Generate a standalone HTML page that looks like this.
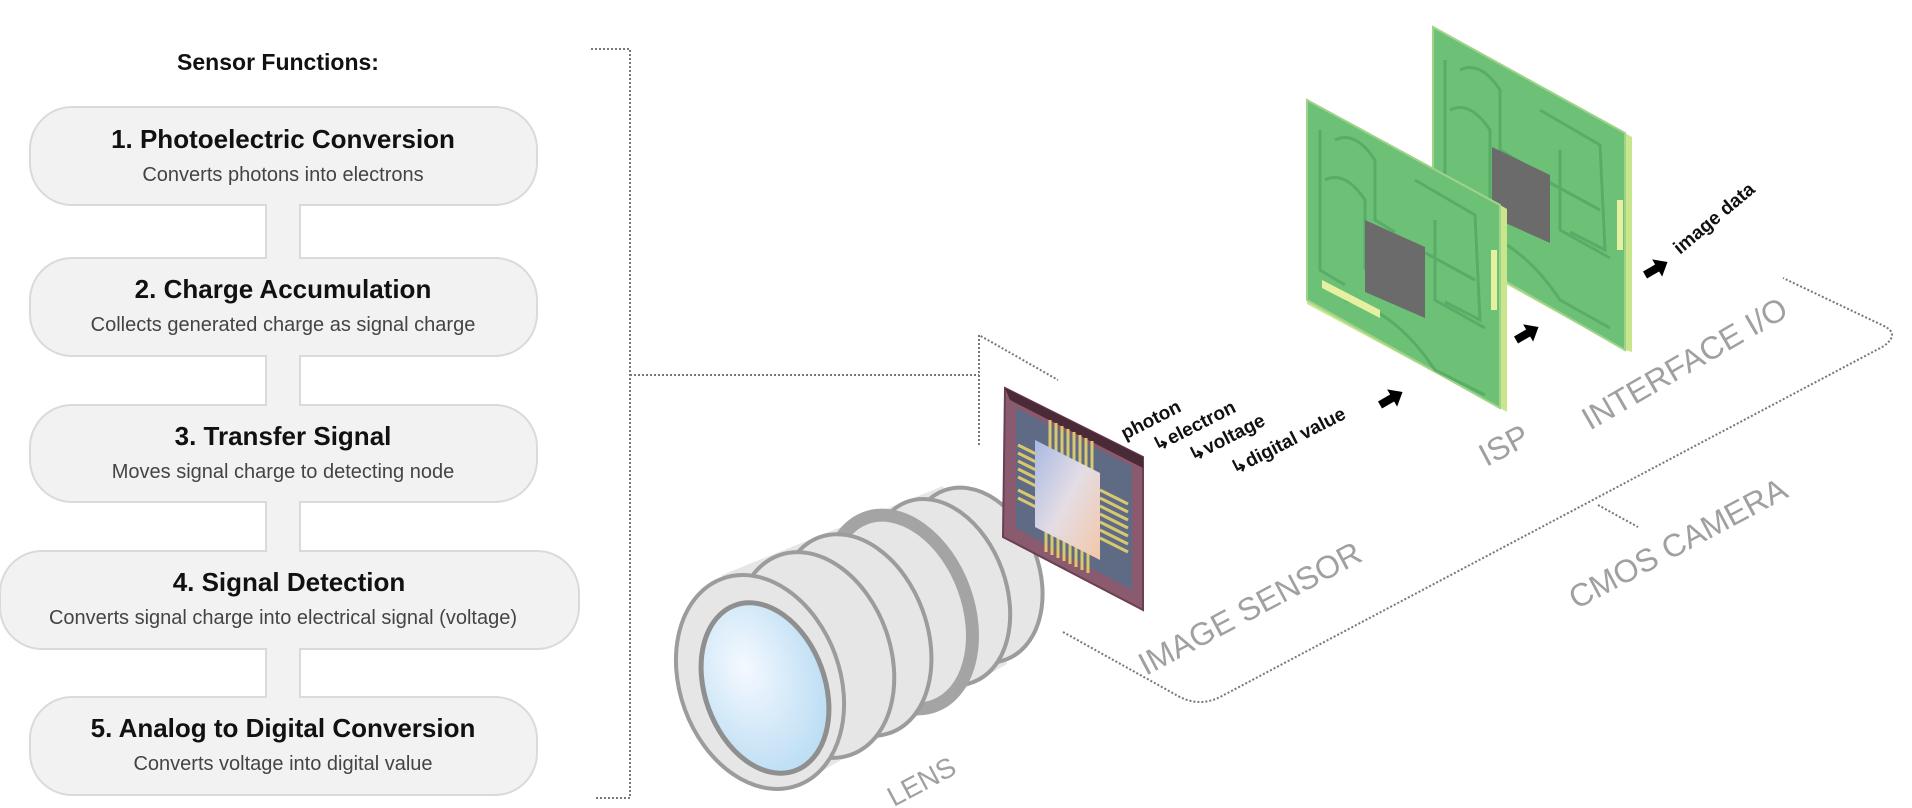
<!DOCTYPE html>
<html><head><meta charset="utf-8"><style>
html,body{margin:0;padding:0;background:#fff;}
svg{display:block}
text{font-family:"Liberation Sans",sans-serif}
</style></head><body>
<svg width="1912" height="808" viewBox="0 0 1912 808" xmlns="http://www.w3.org/2000/svg">
<defs>
<linearGradient id="chipg" x1="0" y1="0" x2="1" y2="1"><stop offset="0" stop-color="#a9b9e3"/><stop offset="0.5" stop-color="#e4dde4"/><stop offset="1" stop-color="#f3c6a8"/></linearGradient>
<radialGradient id="glass" cx="0.4" cy="0.35" r="0.7"><stop offset="0" stop-color="#f4f9ff"/><stop offset="1" stop-color="#b9dcf3"/></radialGradient>
</defs>

<!-- left panel -->
<text x="278" y="70" font-size="23" font-weight="bold" text-anchor="middle" fill="#111">Sensor Functions:</text>
<g fill="#f2f2f2" stroke="#dadada" stroke-width="2">
<rect x="266" y="200" width="34" height="64"/>
<rect x="266" y="350" width="34" height="60"/>
<rect x="266" y="497" width="34" height="60"/>
<rect x="266" y="644" width="34" height="58"/>
<rect x="30" y="107" width="507" height="98" rx="42"/>
<rect x="30" y="258" width="507" height="98" rx="42"/>
<rect x="30" y="405" width="507" height="97" rx="42"/>
<rect x="0" y="551" width="579" height="98" rx="42"/>
<rect x="30" y="697" width="507" height="98" rx="42"/>
</g>
<g fill="#f2f2f2"><rect x="267" y="198" width="32" height="12"/><rect x="267" y="252" width="32" height="12"/><rect x="267" y="348" width="32" height="12"/><rect x="267" y="398" width="32" height="12"/><rect x="267" y="495" width="32" height="12"/><rect x="267" y="545" width="32" height="12"/><rect x="267" y="642" width="32" height="12"/><rect x="267" y="691" width="32" height="12"/></g>
<g text-anchor="middle" fill="#111">
<text x="283" y="148" font-size="26" font-weight="bold">1. Photoelectric Conversion</text>
<text x="283" y="181" font-size="20" fill="#444">Converts photons into electrons</text>
<text x="283" y="298" font-size="26" font-weight="bold">2. Charge Accumulation</text>
<text x="283" y="331" font-size="20" fill="#444">Collects generated charge as signal charge</text>
<text x="283" y="445" font-size="26" font-weight="bold">3. Transfer Signal</text>
<text x="283" y="478" font-size="20" fill="#444">Moves signal charge to detecting node</text>
<text x="289" y="591" font-size="26" font-weight="bold">4. Signal Detection</text>
<text x="283" y="624" font-size="20" fill="#444">Converts signal charge into electrical signal (voltage)</text>
<text x="283" y="737" font-size="26" font-weight="bold">5. Analog to Digital Conversion</text>
<text x="283" y="770" font-size="20" fill="#444">Converts voltage into digital value</text>
</g>

<!-- bracket -->
<g fill="none" stroke="#777" stroke-width="2" stroke-dasharray="2 2">
<path d="M591 49 H630 V798 H595"/>
<path d="M630 375 H979"/>
<path d="M979 445 V335 L1058 380"/>
<path d="M1063 632 L1178 696 Q1200 708 1222 696 L1884 346 Q1900 334 1884 326 L1783 278"/>
<path d="M1598 505 L1638 527"/>
</g>

<!-- lens -->
<g stroke="#9c9c9c" stroke-width="4" fill="#e6e6e6">
<polygon points="722,575 943,486 1007,664 798,785" stroke="none"/>
<ellipse cx="975" cy="575" rx="64" ry="90" transform="rotate(-20 975 575)"/>
<ellipse cx="940" cy="592" rx="66" ry="96" transform="rotate(-20 940 592)"/>
<ellipse cx="900" cy="612" rx="68" ry="100" transform="rotate(-20 900 612)" stroke-width="13" stroke="#a4a4a4"/>
<ellipse cx="855" cy="635" rx="72" ry="104" transform="rotate(-20 855 635)"/>
<ellipse cx="815" cy="655" rx="75" ry="106" transform="rotate(-20 815 655)"/>
<ellipse cx="760" cy="682" rx="80" ry="110" transform="rotate(-20 760 682)"/>
<ellipse cx="765" cy="688" rx="60" ry="88" transform="rotate(-20 765 688)" fill="url(#glass)" stroke="#8f8f8f" stroke-width="5"/>
</g>

<!-- image sensor chip -->
<polygon points="1005,388 1143,457 1143,610 1003,537" fill="#8a5a6e" stroke="#6a3f52" stroke-width="2"/>
<polygon points="1005,388 1143,457 1143,468 1010,400" fill="#4a2a36"/>
<polygon points="1016,408 1132,466 1132,590 1016,528" fill="#5f6a85"/>
<g stroke="#d8c86e" stroke-width="3">
<path d="M1050 420 v30 M1056 423 v30 M1062 426 v30 M1068 429 v30 M1074 432 v30 M1080 435 v30 M1086 438 v30 M1092 441 v30"/>
<path d="M1046 520 v32 M1052 523 v32 M1058 526 v32 M1064 529 v32 M1070 532 v32 M1076 535 v32 M1082 538 v32 M1088 541 v32"/>
<path d="M1018 445 l22 11 M1018 453 l22 11 M1018 461 l22 11 M1018 469 l22 11 M1018 477 l22 11 M1018 490 l22 11 M1018 498 l22 11"/>
<path d="M1100 490 l28 14 M1100 498 l28 14 M1100 506 l28 14 M1100 514 l28 14 M1100 522 l28 14 M1100 530 l28 14 M1100 538 l28 14"/>
</g>
<polygon points="1035,440 1100,473 1100,560 1035,527" fill="url(#chipg)"/>

<!-- PCBs -->
<g>
<polygon points="1433,27 1625,133 1632,137 1632,352 1625,350 1433,244" fill="#c9e68c"/>
<polygon points="1433,27 1625,133 1625,350 1433,240" fill="#6dc177" stroke="#9fd38a" stroke-width="2"/>
<g fill="none" stroke="#55a862" stroke-width="3" opacity="0.8">
<path d="M1445 60 L1445 200 L1470 215 M1460 70 Q1480 60 1500 90 L1500 150 L1520 162 M1450 110 Q1470 100 1490 130 L1490 200"/>
<path d="M1540 110 L1600 145 L1605 250 L1570 232 M1545 180 L1600 210 M1470 230 Q1520 240 1560 300 L1610 328 M1560 150 L1560 230 L1610 258"/>
</g>
<polygon points="1492,147 1550,175 1550,243 1492,217" fill="#6b6b6b"/>
<rect x="1617" y="200" width="6" height="50" fill="#e6f0a0"/>

<polygon points="1307,100 1500,205 1507,209 1507,412 1500,408 1307,304" fill="#c9e68c"/>
<polygon points="1307,100 1500,205 1500,408 1307,300" fill="#6dc177" stroke="#9fd38a" stroke-width="2"/>
<g fill="none" stroke="#55a862" stroke-width="3" opacity="0.8">
<path d="M1320 130 L1320 270 L1345 285 M1335 140 Q1355 130 1375 160 L1375 220 L1395 232 M1325 180 Q1345 170 1365 200 L1365 270"/>
<path d="M1415 180 L1475 215 L1480 320 L1445 302 M1420 250 L1475 280 M1345 300 Q1395 310 1435 370 L1485 395 M1435 220 L1435 300 L1485 328"/>
</g>
<polygon points="1365,220 1425,247 1425,318 1365,292" fill="#6b6b6b"/>
<polygon points="1322,280 1380,310 1380,318 1322,288" fill="#e6f0a0"/>
<rect x="1491" y="250" width="6" height="60" fill="#e6f0a0"/>
</g>

<!-- arrows -->
<g fill="#000">
<polygon points="0,-4 14,-4 14,-10 26,0 14,10 14,4 0,4" transform="translate(1380 405) rotate(-30)"/>
<polygon points="0,-4 14,-4 14,-10 26,0 14,10 14,4 0,4" transform="translate(1516 340) rotate(-30)"/>
<polygon points="0,-4 14,-4 14,-10 26,0 14,10 14,4 0,4" transform="translate(1645 275) rotate(-30)"/>
</g>

<!-- labels -->
<g font-size="19" fill="#111" font-weight="bold">
<text transform="translate(1125 440) rotate(-27)">photon</text>
<text transform="translate(1157 452) rotate(-27)">↳electron</text>
<text transform="translate(1193 462) rotate(-27)">↳voltage</text>
<text transform="translate(1235 475) rotate(-27)">↳digital value</text>
<text transform="translate(1680 255) rotate(-40)">image data</text>
</g>
<g font-size="32" fill="#a0a0a0" text-anchor="middle">
<text transform="translate(1255 618) rotate(-28)">IMAGE SENSOR</text>
<text transform="translate(1509 455) rotate(-28)">ISP</text>
<text transform="translate(1690 373) rotate(-30)">INTERFACE I/O</text>
<text transform="translate(1683 553) rotate(-28)">CMOS CAMERA</text>
<text transform="translate(926 790) rotate(-28)" font-size="28">LENS</text>
</g>
</svg>
</body></html>
